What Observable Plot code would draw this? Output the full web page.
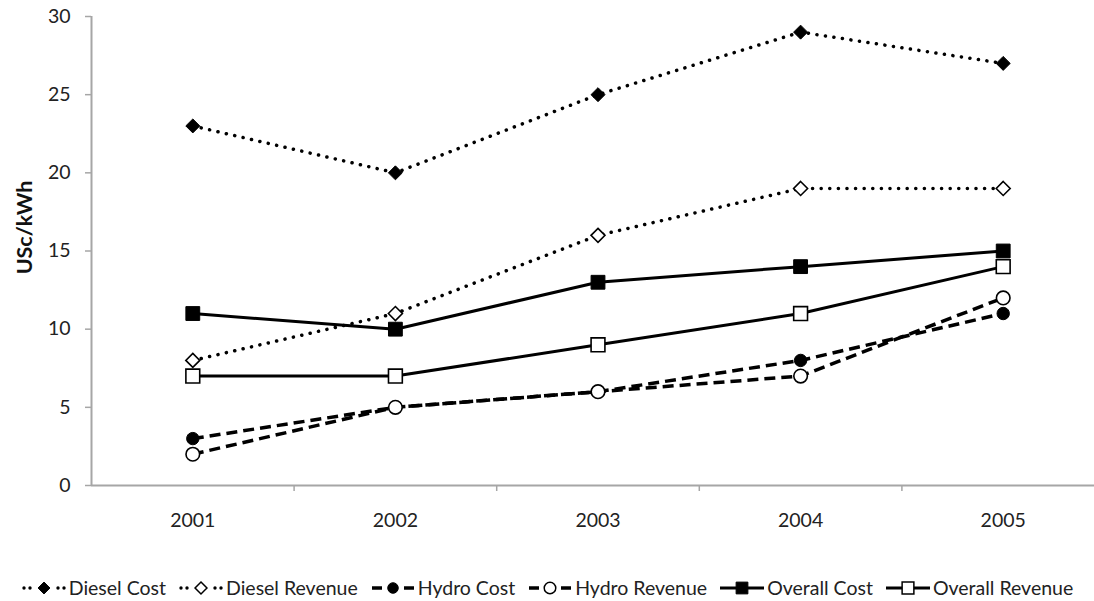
<!DOCTYPE html>
<html>
<head>
<meta charset="utf-8">
<script src="https://cdn.jsdelivr.net/npm/d3@7"></script>
<script src="https://cdn.jsdelivr.net/npm/@observablehq/plot@0.6"></script>
<style>
  body { margin: 0; background: #fff; font-family: Lato, "Open Sans", sans-serif; }
  #legend { display: flex; justify-content: center; align-items: center; margin-top: 36px; font-size: 19.5px; color: #222; }
  .item { display: flex; align-items: center; margin: 0 6px; }
  .item svg { margin-right: 2px; }
</style>
</head>
<body>
<div id="chart"></div>
<div id="legend"></div>
<script>
const years = [2001, 2002, 2003, 2004, 2005];
const seriesNames = ["Diesel Cost", "Diesel Revenue", "Hydro Cost", "Hydro Revenue", "Overall Cost", "Overall Revenue"];
const dieselCost = [23, 20, 25, 29, 27];
const dieselRevenue = [8, 11, 16, 19, 19];
const hydroCost = [3, 5, 6, 8, 11];
const hydroRevenue = [2, 5, 6, 7, 12];
const overallCost = [11, 10, 13, 14, 15];
const overallRevenue = [7, 7, 9, 11, 14];
const yTicks = [0, 5, 10, 15, 20, 25, 30];
const yTitle = "USc/kWh";

const valuesBySeries = [dieselCost, dieselRevenue, hydroCost, hydroRevenue, overallCost, overallRevenue];

const dotted = {dash: "0.1 8.5", cap: "round", width: 3.5};
const dashed = {dash: "11 6", cap: "butt", width: 3.5};
const solid = {dash: null, cap: "butt", width: 3};
const styles = [
  {line: dotted, symbol: "diamond2", fill: "black", r: 6.3},
  {line: dotted, symbol: "diamond2", fill: "white", r: 6.3},
  {line: dashed, symbol: "circle", fill: "black", r: 6.2},
  {line: dashed, symbol: "circle", fill: "white", r: 6.8},
  {line: solid, symbol: "square", fill: "black", r: 7.8},
  {line: solid, symbol: "square", fill: "white", r: 7.8}
];

const data = seriesNames.map((name, i) =>
  years.map((year, j) => ({series: name, year, value: valuesBySeries[i][j]}))
);

const axisGrey = "#a6a6a6";
const marks = [
  Plot.ruleY([0], {stroke: axisGrey, strokeWidth: 2}),
  Plot.ruleX([years[0] - 0.5], {stroke: axisGrey, strokeWidth: 2}),
  Plot.axisY({ticks: yTicks, tickSize: 6, tickPadding: 15, stroke: axisGrey, strokeWidth: 1.5, label: null, fontSize: 19.5, color: "#222"}),
  Plot.axisX({ticks: years, tickSize: 0, tickPadding: 28, tickFormat: d => String(d), label: null, fontSize: 19.5, color: "#222"}),
  Plot.axisX({ticks: years.map(y => y + 0.5), tickSize: 6, tickFormat: () => "", stroke: axisGrey, strokeWidth: 1.5, label: null}),
  Plot.text([yTitle], {frameAnchor: "left", dx: -66, rotate: -90, fontWeight: "bold", fontSize: 21.5, fill: "#111", y: () => 16.5, textAnchor: "middle"})
];

data.forEach((d, i) => {
  const s = styles[i];
  marks.push(Plot.line(d, {x: "year", y: "value", stroke: "black", strokeWidth: s.line.width,
    strokeDasharray: s.line.dash, strokeLinecap: s.line.cap, curve: "linear"}));
});
data.forEach((d, i) => {
  const s = styles[i];
  marks.push(Plot.dot(d, {x: "year", y: "value", symbol: () => s.symbol, r: s.r,
    fill: s.fill, stroke: "black", strokeWidth: s.fill === "white" ? 1.6 : 1}));
});

const chart = Plot.plot({
  width: 1094,
  height: 540,
  marginLeft: 91,
  marginTop: 16,
  marginBottom: 55,
  marginRight: 0,
  style: {fontFamily: "Lato, 'Open Sans', sans-serif", background: "white", overflow: "hidden"},
  x: {domain: [years[0] - 0.5, years[years.length - 1] + 0.5], range: [91, 1104]},
  y: {domain: [0, 30], range: [485, 16]},
  symbol: {type: "identity"},
  marks
});
document.getElementById("chart").appendChild(chart);

// legend
const legend = d3.select("#legend");
const symMap = {diamond2: d3.symbolDiamond2, circle: d3.symbolCircle, square: d3.symbolSquare};
seriesNames.forEach((name, i) => {
  const s = styles[i];
  const item = legend.append("div").attr("class", "item");
  const svg = item.append("svg").attr("width", 46).attr("height", 20);
  if (s.line === dotted) {
    [3, 9, 37, 43].forEach(x => svg.append("circle").attr("cx", x).attr("cy", 10).attr("r", 1.7).attr("fill", "black"));
  } else if (s.line === dashed) {
    svg.append("line").attr("x1", 2).attr("x2", 12).attr("y1", 10).attr("y2", 10).attr("stroke", "black").attr("stroke-width", 3.5);
    svg.append("line").attr("x1", 34).attr("x2", 44).attr("y1", 10).attr("y2", 10).attr("stroke", "black").attr("stroke-width", 3.5);
  } else {
    svg.append("line").attr("x1", 1).attr("x2", 45).attr("y1", 10).attr("y2", 10).attr("stroke", "black").attr("stroke-width", 3);
  }
  const size = Math.PI * (s.r * 0.85) ** 2;
  svg.append("path").attr("d", d3.symbol(symMap[s.symbol], size)())
    .attr("transform", "translate(23,10)")
    .attr("fill", s.fill).attr("stroke", "black").attr("stroke-width", s.fill === "white" ? 1.5 : 1);
  item.append("span").text(name);
});
</script>
</body>
</html>
